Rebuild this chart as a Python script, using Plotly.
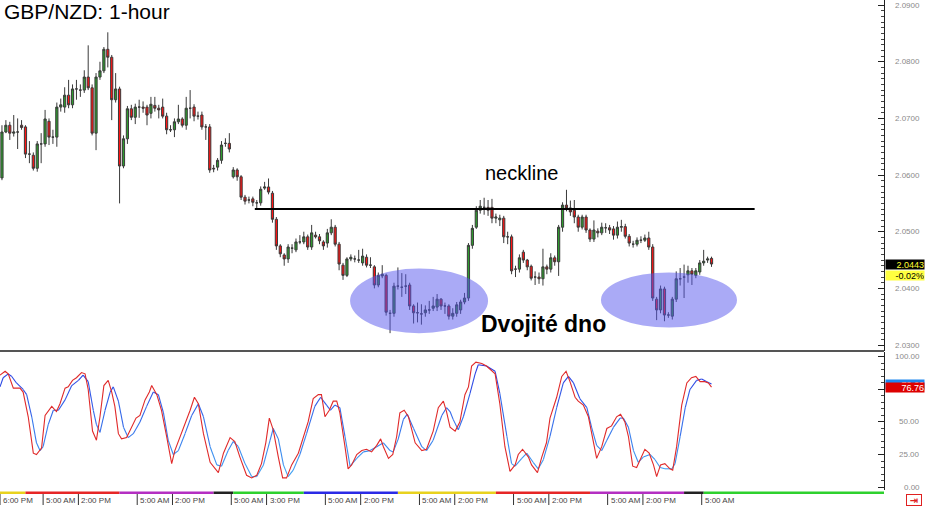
import plotly.graph_objects as go

# ---------------- DATA ----------------
BASE = 2.0  # prices below are in pips above 2.0000
open_p = [595,676,688,674,676,688,685,637,635,612,655,655,695,667,667,720,720,741,724,752,
          750,750,773,754,674,773,784,822,808,733,752,616,664,717,702,720,720,720,709,723,
          718,720,704,680,680,694,699,688,718,720,704,706,685,685,612,614,626,656,656,597,
          609,597,561,556,558,551,551,577,579,568,522,475,459,452,471,468,482,482,491,473,
          494,491,482,480,498,508,478,441,423,452,452,450,445,455,441,438,406,422,423,356,
          356,404,402,404,406,369,357,355,357,362,365,367,381,369,369,351,356,362,376,383,
          476,508,538,543,543,543,524,521,524,491,491,434,434,464,450,439,420,420,417,438,
          434,454,447,508,547,542,538,526,508,526,503,487,501,498,507,507,505,494,508,509,
          492,478,478,485,485,489,473,381,362,399,353,351,381,417,420,424,431,423,429,445,
          450,453]
high_p = [688,697,694,706,700,697,688,660,640,660,674,715,700,680,728,735,755,768,760,768,
          760,785,829,760,780,800,826,852,812,780,756,670,722,724,726,733,730,724,738,738,
          724,735,710,688,700,724,702,738,750,725,712,712,690,690,618,630,660,665,674,614,
          612,600,565,562,562,556,580,588,594,572,526,478,462,478,478,488,494,500,495,512,
          500,496,485,505,522,512,482,445,455,460,458,468,470,460,455,441,428,441,426,362,
          410,437,427,425,410,372,375,372,370,378,385,390,383,375,372,365,376,380,392,480,
          512,545,556,560,556,558,532,530,528,500,495,440,460,468,452,442,430,428,470,442,
          462,458,512,552,574,555,556,530,530,530,506,520,506,516,515,512,510,518,521,514,
          496,484,490,492,495,500,478,385,405,403,358,385,430,436,442,440,436,436,450,468,
          456,456]
low_p = [591,674,662,668,646,680,630,621,608,606,621,650,653,655,650,712,710,718,718,733,
         738,745,750,670,644,768,780,790,697,728,550,612,655,697,690,701,710,688,700,712,
         700,700,672,676,667,690,684,680,700,695,698,680,662,604,605,608,620,650,640,594,
         590,556,548,550,545,540,546,574,566,516,468,455,440,445,462,464,478,478,468,468,
         488,478,468,472,494,474,432,415,420,448,446,445,440,437,436,400,402,418,352,321,
         350,398,385,390,362,338,340,336,350,355,360,360,362,355,345,345,350,355,372,378,
         470,505,532,530,528,515,515,510,480,478,425,420,428,445,432,414,406,408,405,425,
         428,440,422,500,536,528,515,500,504,498,482,482,490,494,498,496,486,488,500,488,
         474,472,474,480,482,468,378,344,356,342,348,345,376,405,383,410,406,418,424,440,
         445,438]
close_p = [676,688,674,676,676,684,637,637,612,655,655,699,667,667,720,724,741,724,752,752,
           750,773,754,674,773,784,822,808,733,752,616,664,717,702,720,720,718,706,725,718,
           715,704,680,680,694,699,688,718,718,704,704,685,685,609,611,626,653,656,646,609,
           597,561,554,556,552,551,575,579,570,522,475,461,452,473,471,482,482,491,473,498,
           491,484,475,498,508,478,443,423,452,455,452,450,457,441,441,406,423,425,358,356,
           404,404,402,404,369,357,357,355,362,362,369,381,369,369,351,356,371,376,383,476,
           506,538,545,543,538,524,526,524,491,491,431,434,454,450,438,418,420,417,438,434,
           454,447,508,547,542,535,526,508,526,503,487,503,498,508,507,503,494,508,509,492,
           480,478,485,485,489,473,383,362,399,353,353,381,417,417,420,431,425,431,445,448,
           452,443]

# Stochastic (%K red, %D blue): (hour index, value) vertices
stoch_k_x = [-0.5,0.8,1.6,2.9,4.6,5.4,6.7,8.0,8.8,10.1,11.0,12.7,13.9,14.8,16.1,16.9,18.0,19.0,20.3,21.2,
             22.0,23.1,24.1,25.0,26.0,27.1,28.0,28.8,29.7,30.5,31.8,33.1,34.2,35.2,36.5,37.6,38.2,39.5,40.7,42.0,
             43.3,44.1,45.4,46.3,48.0,49.1,50.1,51.4,53.1,55.2,56.5,58.2,59.4,60.7,62.4,63.7,65.0,66.2,67.3,68.2,
             69.2,70.5,71.6,72.6,73.9,75.6,76.9,78.1,79.4,80.7,81.5,82.4,83.5,84.5,85.4,86.2,87.5,88.3,89.2,90.5,
             91.8,93.0,94.3,95.6,96.6,97.3,98.6,99.7,100.7,101.5,102.6,103.7,105.4,107.1,108.3,110.0,111.3,112.6,113.4,114.3,
             115.6,116.8,118.1,119.0,119.8,120.9,122.4,123.6,125.8,127.0,128.3,129.6,130.9,131.7,132.8,134.3,135.1,136.6,137.7,138.9,
             139.8,141.5,142.8,143.9,144.9,146.2,147.0,148.3,149.6,150.7,151.7,153.0,154.3,155.5,156.8,157.8,158.9,159.8,160.9,161.9,
             163.2,164.0,165.1,166.2,167.0,168.0,169.1,170.4,171.1,172.1,173.4,174.7,175.9,177.0,178.1,179.3,180.2,181.0]
stoch_k_v = [86,89,87,76,76,73,54,26,25,30,55,62,58,64,76,77,82,84,88,87,
             75,43,36,54,78,82,73,62,41,37,38,46,53,55,67,73,78,71,59,39,
             18,28,38,45,59,69,64,41,19,11,26,38,35,23,9,7,9,18,34,53,
             44,23,7,7,17,26,39,50,68,71,71,54,59,66,66,57,31,14,17,25,
             28,29,27,32,37,31,22,25,39,57,59,54,34,28,29,43,61,66,58,46,
             43,50,71,77,93,96,95,93,87,64,31,12,17,25,29,23,17,11,23,34,
             53,69,85,89,81,69,66,63,54,37,22,31,45,47,54,56,50,39,16,15,
             23,29,26,17,8,17,18,14,13,31,63,80,84,85,81,81,80,76.76]
stoch_d_x = [-0.5,0.3,1.6,2.5,3.7,5.4,6.3,7.6,8.8,9.7,10.5,11.8,13.1,14.4,16.1,17.8,19.5,20.7,22.0,23.3,
             24.1,25.0,26.3,27.6,28.4,29.7,31.0,32.2,33.5,35.2,36.9,38.6,39.9,41.2,42.4,43.7,45.0,46.7,48.4,50.1,
             51.4,53.1,54.8,56.0,57.7,59.0,60.3,62.0,63.7,65.0,66.7,68.4,69.2,70.5,71.8,73.0,74.3,76.0,77.7,79.8,
             81.3,82.8,83.8,84.9,86.2,87.5,88.8,90.5,92.2,93.9,95.6,97.3,99.0,99.8,101.1,102.4,103.4,105.0,107.1,108.3,
             110.0,112.2,113.4,114.3,115.1,116.4,117.7,119.4,120.7,121.5,123.6,125.8,127.0,128.8,130.0,130.9,132.6,133.9,135.5,136.8,
             138.1,139.8,141.5,143.2,144.5,145.8,147.4,149.2,150.4,151.7,153.0,154.3,156.0,157.7,158.5,159.8,161.1,162.3,163.6,165.3,
             166.6,167.9,169.1,170.9,171.7,173.0,174.3,175.5,177.2,178.5,179.8,181.0]
stoch_d_v = [77,84,87,85,80,75,71,54,34,28,31,48,59,59,67,78,82,86,81,59,
             48,42,59,73,77,66,46,38,41,50,62,73,71,57,36,25,28,41,55,64,
             54,31,17,16,28,35,31,18,8,8,17,36,45,37,17,8,13,25,41,62,
             69,63,59,63,61,39,16,22,27,28,31,34,28,27,37,52,56,45,31,28,
             36,55,61,58,52,44,54,72,87,94,93,89,72,39,18,16,22,26,19,14,
             21,39,61,80,85,80,68,61,46,32,28,36,46,53,53,46,28,19,23,25,
             21,15,14,14,18,39,61,75,82,83,81,79.2]

# Annotation data
neckline_level = 2.0540
neckline_from, neckline_to = 64.5, 192
bottoms = [dict(x0=88.8, x1=124.0, y0=2.0321, y1=2.0435),
           dict(x0=152.8, x1=187.5, y0=2.0331, y1=2.0428)]
last_price, last_change = "2.0443", "-0.02%"

price_ticks = [2.03, 2.04, 2.05, 2.06, 2.07, 2.08, 2.09]
stoch_ticks = [0, 25, 50, 75, 100]

time_tick_idx = [0, 11, 20, 35, 44, 59, 68, 83, 92, 107, 116, 131, 140, 155, 164, 179]
time_tick_txt = ["6:00 PM", "5:00 AM", "2:00 PM", "5:00 AM", "2:00 PM", "5:00 AM", "3:00 PM", "5:00 AM",
                 "2:00 PM", "5:00 AM", "2:00 PM", "5:00 AM", "2:00 PM", "5:00 AM", "2:00 PM", "5:00 AM"]

day_edges = [-0.5, 6, 30, 54, 59, 77, 101, 126, 150, 174, 179, 225]
day_names = ["Wed", "Thu", "Fri", "Sun", "Mon", "Tue", "Wed", "Thu", "Fri", "Sun", "Mon"]
weekday_color = {"Mon": "#2ed12e", "Tue": "#2a2ae6", "Wed": "#e8d21e", "Thu": "#e62626",
                 "Fri": "#b42fc2", "Sat": "#222222", "Sun": "#222222"}

# ---------------- FIGURE ----------------
FONT = "Liberation Sans, Arial, sans-serif"
idx = list(range(len(close_p)))
to_price = lambda arr: [BASE + v / 10000 for v in arr]

W, H = 925, 506
ML, MR, MT, MB = 0, 41, 0, 16
PH = H - MT - MB  # 490
main_bottom = 1 - 351 / PH
low_top = 1 - 352 / PH

fig = go.Figure()
fig.add_trace(go.Candlestick(
    x=idx, open=to_price(open_p), high=to_price(high_p), low=to_price(low_p), close=to_price(close_p),
    xaxis="x", yaxis="y", whiskerwidth=0, showlegend=False, hoverinfo="skip",
    increasing=dict(fillcolor="#2f9b2f", line=dict(color="#3a3a3a", width=1)),
    decreasing=dict(fillcolor="#ff1414", line=dict(color="#3a3a3a", width=1)),
))


def blue_shade(v):
    # dark blue near the top of the oscillator, light blue near the bottom
    t = max(0.0, min(1.0, v / 100.0))
    r = int(70 + (40 - 70) * t)
    g = int(175 + (50 - 175) * t)
    b = int(245 + (225 - 245) * t)
    return f"rgb({r},{g},{b})"


for k in range(len(stoch_d_x) - 1):
    fig.add_trace(go.Scatter(x=stoch_d_x[k:k + 2], y=stoch_d_v[k:k + 2], xaxis="x2", yaxis="y2",
                             mode="lines", line=dict(color=blue_shade((stoch_d_v[k] + stoch_d_v[k + 1]) / 2),
                                                      width=1.1),
                             showlegend=False, hoverinfo="skip"))
fig.add_trace(go.Scatter(x=stoch_k_x, y=stoch_k_v, xaxis="x2", yaxis="y2", mode="lines",
                         line=dict(color="#e02a2a", width=1.1), showlegend=False, hoverinfo="skip"))

XR = [-0.5, 225]
fig.update_layout(
    width=W, height=H, margin=dict(l=ML, r=MR, t=MT, b=MB),
    paper_bgcolor="white", plot_bgcolor="white", boxgap=0.2,
    font=dict(family=FONT),
    xaxis=dict(domain=[0, 1], range=XR, anchor="y", showticklabels=False, showgrid=False,
               zeroline=False, ticks="", rangeslider=dict(visible=False), showline=False),
    xaxis2=dict(domain=[0, 1], range=XR, anchor="y2", matches="x", showticklabels=False,
                showgrid=False, zeroline=False, ticks="", showline=False),
    yaxis=dict(domain=[main_bottom, 1], range=[2.02895, 2.0909], side="right", anchor="x",
               tickvals=price_ticks, showticklabels=False, ticks="inside", ticklen=6,
               tickcolor="#222", showline=True, linecolor="#222", linewidth=1,
               showgrid=False, zeroline=False,
               minor=dict(dtick=0.001, ticks="inside", ticklen=3, tickcolor="#444")),
    yaxis2=dict(domain=[0, low_top], range=[-2.3, 103.8], side="right", anchor="x2",
                tickvals=stoch_ticks, showticklabels=False, ticks="inside", ticklen=6,
                tickcolor="#222", showline=True, linecolor="#222", linewidth=1,
                showgrid=False, zeroline=False,
                minor=dict(dtick=5, ticks="inside", ticklen=3, tickcolor="#444")),
)

shapes = []
shapes.append(dict(type="line", xref="x", yref="y", x0=neckline_from, x1=neckline_to,
                   y0=neckline_level, y1=neckline_level, line=dict(color="black", width=2)))
for b in bottoms:
    shapes.append(dict(type="circle", xref="x", yref="y", layer="above", x0=b["x0"], x1=b["x1"],
                       y0=b["y0"], y1=b["y1"], fillcolor="#5656ee", opacity=0.5, line=dict(width=0)))
shapes.append(dict(type="line", xref="paper", yref="paper", x0=0, x1=1, y0=main_bottom, y1=main_bottom,
                   line=dict(color="#555", width=2)))
for k, name in enumerate(day_names):
    shapes.append(dict(type="rect", xref="x2", yref="paper", x0=day_edges[k], x1=day_edges[k + 1],
                       y0=-1.5 / PH, y1=-4 / PH, fillcolor=weekday_color[name], line=dict(width=0)))
for t in time_tick_idx:
    shapes.append(dict(type="line", xref="x2", yref="paper", x0=t - 0.5, x1=t - 0.5,
                       y0=-4 / PH, y1=-15 / PH, line=dict(color="#333", width=1)))
fig.update_layout(shapes=shapes)

ann = []
ann.append(dict(text="GBP/NZD: 1-hour", xref="paper", yref="paper", x=0, y=1, xanchor="left",
                yanchor="top", xshift=2, yshift=2, showarrow=False, font=dict(size=21, color="black")))
ann.append(dict(text="neckline", xref="x", yref="y", x=132.5, y=2.0603, showarrow=False,
                font=dict(size=20, color="black")))
ann.append(dict(text="<b>Dvojité dno</b>", xref="x", yref="y", x=138.2, y=2.0337, showarrow=False,
                font=dict(size=23, color="black")))
for v in price_ticks:
    ann.append(dict(text=f"{v:.4f}", xref="paper", yref="y", x=1, y=v, xanchor="right", xshift=38,
                    showarrow=False, font=dict(size=8, color="#8a8a8a")))
for v in stoch_ticks:
    ann.append(dict(text=f"{v:.2f}", xref="paper", yref="y2", x=1, y=v, xanchor="right", xshift=38,
                    showarrow=False, font=dict(size=8, color="#8a8a8a")))
for t, s in zip(time_tick_idx, time_tick_txt):
    ann.append(dict(text=s, xref="x2", yref="paper", x=t - 0.5, y=0, xanchor="left", yanchor="middle",
                    xshift=1, yshift=-10, showarrow=False, font=dict(size=8, color="#444")))
ann.append(dict(text=last_price, xref="paper", yref="y", x=1, y=BASE + close_p[-1] / 10000,
                xanchor="left", xshift=1, showarrow=False, bgcolor="black", width=38, height=9,
                borderpad=0, align="right", font=dict(size=9, color="#ffff33")))
ann.append(dict(text=last_change, xref="paper", yref="y", x=1, y=BASE + close_p[-1] / 10000,
                xanchor="left", xshift=1, yshift=-11, showarrow=False, bgcolor="#ffff40", width=38,
                height=9, borderpad=0, align="right", font=dict(size=9, color="black")))
ann.append(dict(text=f"{stoch_d_v[-1]:.2f}", xref="paper", yref="y2", x=1, y=stoch_d_v[-1],
                xanchor="left", xshift=1, showarrow=False, bgcolor="#1e88f0", width=38, height=9,
                borderpad=0, align="right", font=dict(size=9, color="white")))
ann.append(dict(text=f"{stoch_k_v[-1]:.2f}", xref="paper", yref="y2", x=1, y=stoch_k_v[-1],
                xanchor="left", xshift=1, showarrow=False, bgcolor="#dd0000", width=38, height=9,
                borderpad=0, align="right", font=dict(size=9, color="white")))
ann.append(dict(text="<b>⇥</b>", xref="paper", yref="paper", x=1, y=0, xanchor="left", yanchor="middle",
                xshift=22, yshift=-10, showarrow=False, bordercolor="#e02020", borderwidth=1,
                borderpad=0, bgcolor="white", width=14, height=10,
                font=dict(size=10, color="#e02020", family="DejaVu Sans")))
fig.update_layout(annotations=ann)

fig.write_html("out.html", config={"displayModeBar": False},
               post_script="document.body.style.margin='0';document.body.style.overflow='hidden';")
